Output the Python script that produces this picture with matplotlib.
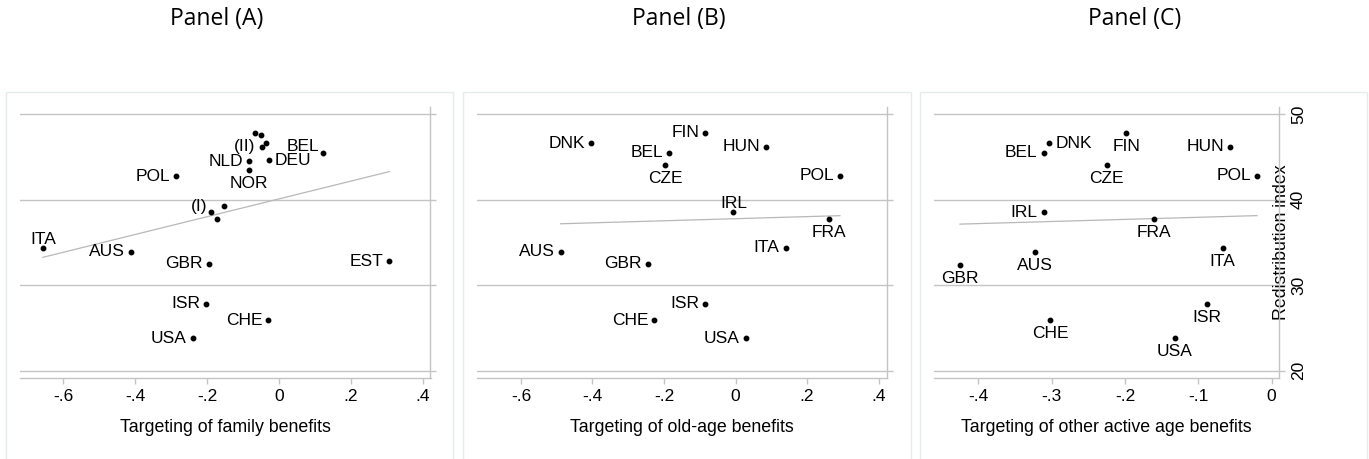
import matplotlib
matplotlib.use('Agg')
import matplotlib.pyplot as plt
from matplotlib.patches import Rectangle
import numpy as np

plt.rcParams['font.family'] = ['Liberation Sans', 'DejaVu Sans']

# redistribution index (y) is shared by the three panels
# Panel (A): targeting of family benefits
a_names = ['ITA', 'AUS', 'GBR', 'EST', 'ISR', 'CHE', 'USA', 'POL',
           '(I)', '', '', 'NLD', 'NOR', 'DEU', 'BEL', '(II)', '', '', '']
a_x = [-0.657, -0.413, -0.195, 0.307, -0.203, -0.030, -0.240, -0.287,
       -0.189, -0.172, -0.153, -0.084, -0.084, -0.029, 0.122, -0.048, -0.067, -0.051, -0.037]
a_y = [34.4, 33.9, 32.5, 32.8, 27.8, 25.9, 23.8, 42.75,
       38.5, 37.7, 39.2, 44.5, 43.5, 44.6, 45.5, 46.2, 47.8, 47.5, 46.6]

# Panel (B): targeting of old-age benefits
b_names = ['DNK', 'FIN', 'BEL', 'HUN', 'CZE', 'POL', 'IRL', 'FRA',
           'ITA', 'AUS', 'GBR', 'ISR', 'CHE', 'USA']
b_x = [-0.404, -0.084, -0.185, 0.086, -0.197, 0.292, -0.006, 0.261,
       0.140, -0.489, -0.245, -0.085, -0.227, 0.029]
b_y = [46.6, 47.8, 45.5, 46.2, 44.0, 42.8, 38.5, 37.7,
       34.4, 33.9, 32.5, 27.8, 25.9, 23.8]

# Panel (C): targeting of other active age benefits
c_names = ['BEL', 'DNK', 'FIN', 'HUN', 'CZE', 'POL', 'IRL', 'FRA',
           'AUS', 'GBR', 'ITA', 'CHE', 'ISR', 'USA']
c_x = [-0.311, -0.303, -0.198, -0.057, -0.225, -0.020, -0.311, -0.160,
       -0.323, -0.425, -0.067, -0.302, -0.088, -0.132]
c_y = [45.5, 46.6, 47.8, 46.2, 44.0, 42.8, 38.5, 37.7,
       33.9, 32.4, 34.4, 25.9, 27.8, 23.8]

# marker label positions (clock style, like Stata mlabpos)
a_pos = {'ITA': 12, 'NOR': 6, 'DEU': 3, 'BEL': 10, '(I)': 10}
b_pos = {'CZE': 6, 'IRL': 12, 'FRA': 6}
c_pos = {'BEL': 9, 'DNK': 3, 'HUN': 9, 'POL': 9, 'IRL': 9}
c_default = 6

W, H = 1369, 459
fig = plt.figure(figsize=(W / 100, H / 100), dpi=100)

grid_col = '#c4c4c4'
box_col = '#e4ecec'


def fx(px):
    return px / W


def fy(py):
    return 1 - py / H


# light panel frames
for l, r in [(6, 453), (463, 911), (920, 1367)]:
    fig.add_artist(Rectangle((fx(l), fy(470)), fx(r - l), fy(92) - fy(470),
                             transform=fig.transFigure, fill=False,
                             edgecolor=box_col, lw=1.0))

for sx, t in [(170, 'Panel (A)'), (632, 'Panel (B)'), (1088, 'Panel (C)')]:
    fig.text(fx(sx), fy(19), t, ha='left', va='center', fontsize=16.5,
             family=['Open Sans', 'DejaVu Sans'])


def clock_offset(p):
    if p == 12:
        return (0, 4), 'center', 'baseline'
    if p == 6:
        return (0, -6), 'center', 'top'
    if p == 3:
        return (6, 0), 'left', 'center'
    if p == 10:
        return (-4, 6), 'right', 'center'
    return (-6, 0), 'right', 'center'


def panel(left, right, xs, ys, names, pos, default, xlim, xticks, xlabel, last=False):
    top, bottom = 106.5, 378
    ax = fig.add_axes([fx(left), fy(bottom), fx(right - left), fy(top) - fy(bottom)])
    ax.set_xlim(*xlim)
    ax.set_ylim(19.15, 50.88)
    for s in ['left', 'top']:
        ax.spines[s].set_visible(False)
    for s in ['bottom', 'right']:
        ax.spines[s].set_color(grid_col)
        ax.spines[s].set_linewidth(1.0)
    ax.yaxis.tick_right()
    ax.set_yticks([20, 30, 40, 50])
    ax.grid(axis='y', color=grid_col, lw=1.0)
    ax.set_axisbelow(True)
    ax.tick_params(axis='y', direction='out', length=4, color=grid_col, width=1.0)
    ax.tick_params(axis='x', direction='out', length=4, color=grid_col, width=1.0,
                   labelsize=12.5, pad=4)
    ax.set_xticks(xticks)
    ax.set_xticklabels([('%g' % v).replace('0.', '.') if v != 0 else '0' for v in xticks])
    if last:
        ax.tick_params(axis='y', labelsize=12.5, labelrotation=90, pad=4.5)
        for lab in ax.get_yticklabels():
            lab.set_verticalalignment('center')
        ax.set_ylabel('Redistribution index', fontsize=12.8)
        ax.yaxis.set_label_position('right')
        ax.yaxis.set_label_coords(0.982, 0.5)
    else:
        ax.tick_params(axis='y', labelright=False)
    ax.set_xlabel(xlabel, fontsize=12.8, labelpad=10.5)

    xs = np.array(xs)
    ys = np.array(ys)
    k, b = np.polyfit(xs, ys, 1)
    xl = np.array([xs.min(), xs.max()])
    ax.plot(xl, k * xl + b, color='#b8b8b8', lw=0.9, zorder=2)
    ax.plot(xs, ys, 'o', color='black', ms=3.2, zorder=3)
    for n, x, y in zip(names, xs, ys):
        if not n:
            continue
        off, ha, va = clock_offset(pos.get(n, default))
        ax.annotate(n, (x, y), xytext=off, textcoords='offset pixels',
                    ha=ha, va=va, fontsize=12.5)
    return ax


panel(20, 430.5, a_x, a_y, a_names, a_pos, 9, (-0.7205, 0.4215),
      [-0.6, -0.4, -0.2, 0, 0.2, 0.4], 'Targeting of family benefits')
panel(477, 887.5, b_x, b_y, b_names, b_pos, 9, (-0.723, 0.425),
      [-0.6, -0.4, -0.2, 0, 0.2, 0.4], 'Targeting of old-age benefits')
panel(934, 1279.3, c_x, c_y, c_names, c_pos, c_default, (-0.4604, 0.0104),
      [-0.4, -0.3, -0.2, -0.1, 0], 'Targeting of other active age benefits', last=True)

fig.savefig('out.png', dpi=100)
